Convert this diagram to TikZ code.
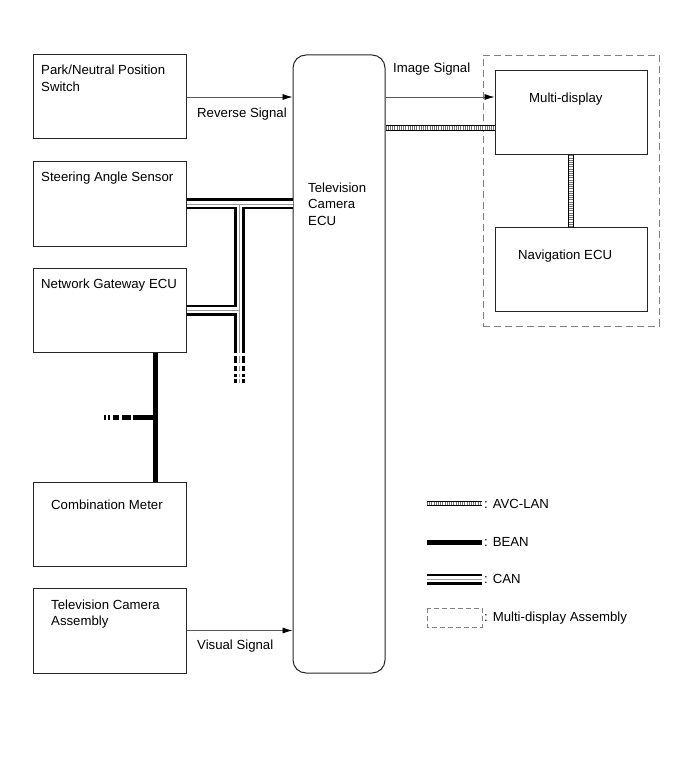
\documentclass[tikz,border=0pt]{standalone}
\usepackage{fontspec}
\setmainfont{Liberation Sans}
\usetikzlibrary{arrows.meta,calc}

\begin{document}
\begin{tikzpicture}[
	x=1pt, y=-1pt,
	font=\fontsize{13.2}{16.5}\selectfont,
	unit/.style={draw=black!85, line width=1pt, minimum width=153pt, minimum height=84pt, inner sep=0pt},
	ecubox/.style={draw=black!85, line width=1pt, rounded corners=13pt, minimum width=92pt, minimum height=618pt, inner sep=0pt},
	assybox/.style={draw=black!50, line width=0.8pt, dash pattern=on 7pt off 4pt},
	txt/.style={inner sep=0pt, align=left, anchor=west},
	sig/.style={-{Latex[length=10pt,width=6pt,black]}, draw=black!65, line width=0.7pt},
	bean/.style={draw=black, line width=5pt},
	can/.style={draw=black, line width=11pt, postaction={draw=white, line width=5.6pt}, postaction={draw=black!40, line width=0.6pt}},
	candash/.style={draw=black, line width=11pt, dash pattern=on 7pt off 3pt on 5pt off 3pt on 3pt off 2pt on 4pt off 20pt,
		postaction={draw=white, line width=5.6pt, dash pattern=on 7pt off 3pt on 5pt off 3pt on 3pt off 2pt on 4pt off 20pt},
		postaction={draw=black!40, line width=0.6pt, dash pattern=on 7pt off 3pt on 5pt off 3pt on 3pt off 2pt on 4pt off 20pt}},
	avclan/.style={draw=black, line width=5.4pt, postaction={draw=white, line width=3.4pt}, postaction={draw=black!55, line width=3.4pt, dash pattern=on 1pt off 1.2pt}}
]
\useasboundingbox (0,0) rectangle (691,759);

\node[unit] (park) at (109.5,97) {};
\node[unit] (steer) at (109.5,204) {};
\node[unit] (gw) at (109.5,310) {};
\node[unit] (meter) at (109.5,524) {};
\node[unit, minimum height=85pt] (cam) at (109.5,630.5) {};
\node[ecubox] (ecu) at (339,364) {};
\node[assybox, minimum width=176pt, minimum height=271pt] (assy) at (571,190.5) {};
\node[unit, minimum width=152pt] (mdisp) at (571,113) {};
\node[unit, minimum width=152pt] (nav) at (571,269) {};

\node[txt] (parktxt) at (41,78.5) {Park/Neutral Position\\Switch};
\node[txt] (steertxt) at (41,178.3) {Steering Angle Sensor};
\node[txt] (gwtxt) at (41,285.3) {Network Gateway ECU};
\node[txt] (metertxt) at (51,505) {Combination Meter};
\node[txt] (camtxt) at (51,614.2) {Television Camera\\Assembly};
\node[txt] (ecutxt) at (308,204) {Television\\Camera\\ECU};
\node[txt] (mdisptxt) at (529,99.4) {Multi-display};
\node[txt] (navtxt) at (518,256.3) {Navigation ECU};

\draw[sig] (park.east) -- (park.east -| ecu.west);
\node[txt] (revtxt) at (197,113.8) {Reverse Signal};
\draw[sig] (cam.east) -- (cam.east -| ecu.west);
\node[txt] (vistxt) at (197,646) {Visual Signal};
\coordinate (imgin) at ([yshift=16pt]mdisp.west);
\draw[sig] (imgin -| ecu.east) -- (imgin);
\node[txt] (imgtxt) at (393,69.3) {Image Signal};

\coordinate (avcin) at ([yshift=-15pt]mdisp.west);
\draw[avclan] (avcin -| ecu.east) -- (avcin);
\draw[avclan] (mdisp.south) -- (nav.north);

\coordinate (tee) at ($(steer.east)!0.5!(steer.east -| ecu.west)$);
\coordinate (canend) at (tee |- gw.south);
\coordinate (stubtop) at ([yshift=-3pt]canend);
\coordinate (stubend) at ([yshift=-30pt]canend);
\draw[can] (steer.east) -- (steer.east -| ecu.west) (tee) -- (canend) (gw.east) -- (gw.east -| tee);
\draw[candash] (stubtop) -- (stubend);

\coordinate (beantop) at ([xshift=46pt]gw.south);
\coordinate (beanbot) at ([xshift=46pt]meter.north);
\coordinate (beanjoin) at (beantop |- 0,417);
\coordinate (beanstub) at (103,417);
\draw[bean] (beantop) -- (beanbot);
\draw[bean, dash pattern=on 23pt off 2pt on 9pt off 3pt on 6pt off 3pt on 2pt off 1.5pt on 2pt off 20pt] (beanjoin) -- (beanstub);

\node[txt] (lgavc) at (484,503.5) {: AVC-LAN};
\node[txt] (lgbean) at (484,542) {: BEAN};
\node[txt] (lgcan) at (484,579) {: CAN};
\node[txt] (lgassy) at (484,618.4) {: Multi-display Assembly};
\draw[avclan] ([xshift=-57pt]lgavc.west) -- ([xshift=-2pt]lgavc.west);
\draw[bean] ([xshift=-57pt]lgbean.west) -- ([xshift=-2pt]lgbean.west);
\draw[can] ([xshift=-57pt]lgcan.west) -- ([xshift=-2pt]lgcan.west);
\draw[assybox, dash pattern=on 5pt off 3pt] ([xshift=-57pt,yshift=10.5pt]lgassy.west) rectangle ([xshift=-2pt,yshift=-8.5pt]lgassy.west);
\end{tikzpicture}
\end{document}
